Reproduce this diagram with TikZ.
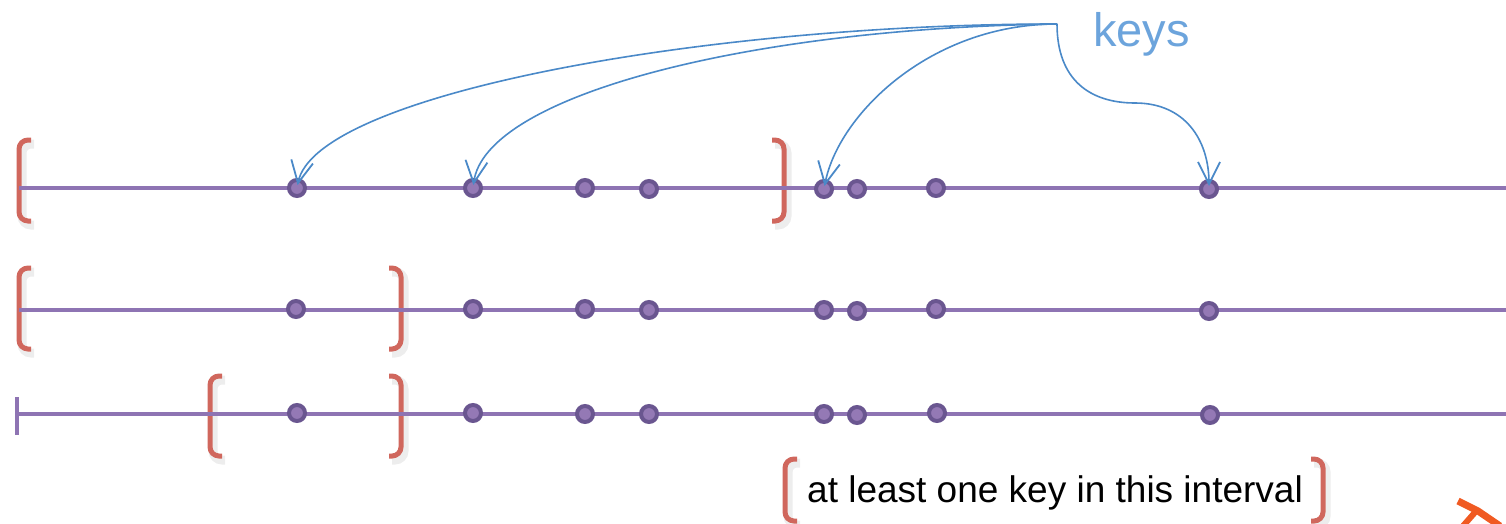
\documentclass[tikz,border=0pt]{standalone}
\usepackage{fontspec}
\setmainfont{Liberation Sans}
\usetikzlibrary{arrows.meta}
\definecolor{lineC}{HTML}{8E74B3}
\definecolor{dotDark}{HTML}{6A5690}
\definecolor{dotFill}{HTML}{9479B5}
\definecolor{brC}{HTML}{D0675D}
\definecolor{arrC}{HTML}{4A89C8}
\definecolor{keyC}{HTML}{6CA4DC}
\definecolor{orC}{HTML}{F05A22}
\tikzset{
  axis/.style={draw=lineC, line width=4pt},
  keydot/.style={circle, draw=dotDark, fill=dotFill, line width=4pt, minimum size=16pt, inner sep=0pt},
  brk/.style={draw=brC, line width=5pt, rounded corners=9pt},
  brkshadow/.style={draw=black, opacity=0.07, line width=9pt, rounded corners=9pt},
  keyarrow/.style={draw=arrC, line width=1.6pt, -{Straight Barb[length=22pt,width=22pt,line width=1.8pt]}, shorten >=3pt},
}
\newcommand{\lbrk}[3]{% x, top, bottom
  \draw[brkshadow] (#1+15,#2+4) -- (#1+3,#2+4) -- (#1+3,#3+4) -- (#1+15,#3+4);
  \draw[brk] (#1+12,#2) -- (#1,#2) -- (#1,#3) -- (#1+12,#3);}
\newcommand{\rbrk}[3]{%
  \draw[brkshadow] (#1-9,#2+4) -- (#1+3,#2+4) -- (#1+3,#3+4) -- (#1-9,#3+4);
  \draw[brk] (#1-12,#2) -- (#1,#2) -- (#1,#3) -- (#1-12,#3);}
\begin{document}
\begin{tikzpicture}[x=1pt,y=-1pt]
\useasboundingbox (0,0) rectangle (1506,524);
% brackets (behind lines)
\lbrk{19}{140}{221}
\rbrk{784}{140}{221}
\lbrk{19}{268}{349}
\rbrk{401}{268}{349}
\lbrk{210}{376}{456}
\rbrk{401}{376}{456}
\lbrk{785}{459}{521}
\rbrk{1323}{459}{521}
% axes
\draw[axis] (19,188) -- (1506,188);
\draw[axis] (19,310) -- (1506,310);
\draw[axis] (17,414) -- (1506,414);
\draw[draw=lineC, line width=3.5pt] (17,397) -- (17,435);
% dots row 1
\foreach \x/\y [count=\i] in {297/188,473/188,585/188,649/189,824/189,857/189,936/188,1209/189}
  \node[keydot] (a\i) at (\x,\y) {};
% dots row 2
\foreach \x/\y [count=\i] in {296/309,473/309,585/309,649/310,824/310,857/311,936/309,1209/311}
  \node[keydot] (b\i) at (\x,\y) {};
% dots row 3
\foreach \x/\y [count=\i] in {297/413,473/413,585/414,649/414,824/414,857/415,937/413,1210/415}
  \node[keydot] (c\i) at (\x,\y) {};
% keys label
\coordinate (src) at (1057,24);
\node[text=keyC, font=\fontsize{47}{50}\selectfont, anchor=base west, inner sep=0pt] (keys) at (1093,47) {keys};
% arrows
\draw[keyarrow] (src) .. controls (700,24) and (315,95) .. (a1.center);
\draw[keyarrow] (src) .. controls (750,28) and (485,95) .. (a2.center);
\draw[keyarrow] (src) .. controls (930,24) and (838,115) .. (a5.center);
\draw[keyarrow] (src) .. controls (1057,80) and (1090,103) .. (1135,103) .. controls (1185,103) and (1209,140) .. (a8.center);
% interval label
\node[font=\fontsize{37}{40}\selectfont, anchor=base, inner sep=0pt] (lbl) at (1055,502) {at least one key in this interval};
% orange partial mark
\draw[orC, line width=7pt] (1458,501) -- (1478,511) -- (1500,526);
\draw[orC, line width=6pt] (1477,510) -- (1463,526);
\end{tikzpicture}
\end{document}
